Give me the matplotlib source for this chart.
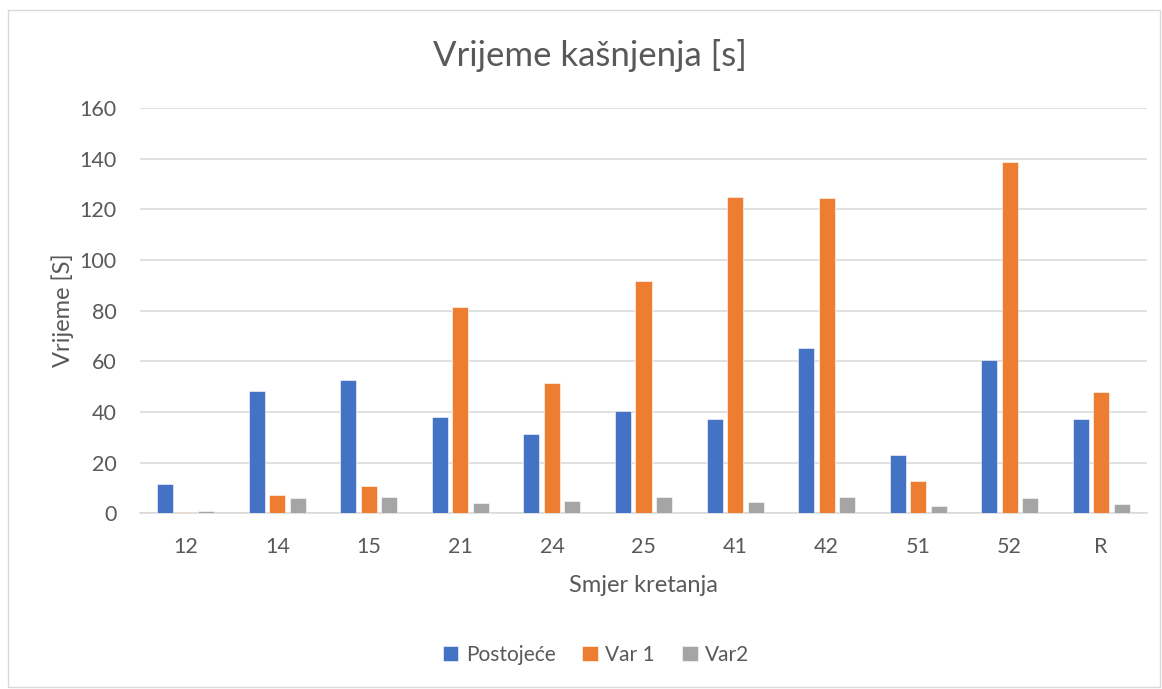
import matplotlib
matplotlib.use("Agg")
import matplotlib.pyplot as plt
import numpy as np
from matplotlib.patches import Rectangle

categories = ["12", "14", "15", "21", "24", "25", "41", "42", "51", "52", "R"]
postojece = [11.6, 48.1, 52.6, 38.0, 31.2, 40.2, 37.3, 65.3, 22.9, 60.5, 37.1]
var1 = [0.5, 7.1, 10.9, 81.3, 51.3, 91.6, 125.0, 124.4, 12.7, 138.5, 47.9]
var2 = [0.9, 5.9, 6.5, 4.1, 5.0, 6.3, 4.6, 6.4, 3.0, 5.9, 3.6]
series_names = ["Postojeće", "Var 1", "Var2"]
colors = ["#4472C4", "#ED7D31", "#A5A5A5"]
yticks = [0, 20, 40, 60, 80, 100, 120, 140, 160]

FONT = ["Lato", "DejaVu Sans"]
TXT = "#595959"
plt.rcParams["font.family"] = FONT

W, H = 1162, 689
fig = plt.figure(figsize=(W / 100, H / 100), dpi=100)
fig.patch.set_facecolor("white")

# chart border
fig.add_artist(Rectangle((8 / W, 1 - 687 / H), (1160 - 8) / W, (687 - 10) / H,
                         transform=fig.transFigure, fill=False,
                         edgecolor="#D9D9D9", linewidth=1.0))

ax = fig.add_axes([140 / W, 1 - 513.3 / H, (1147 - 140) / W, (513.3 - 108) / H])
x = np.arange(len(categories))
step = 0.224
width = 0.175
for i, (vals, c, name) in enumerate(zip([postojece, var1, var2], colors, series_names)):
    ax.bar(x + (i - 1) * step, vals, width=width, color=c, label=name,
           edgecolor="white", linewidth=0.4, zorder=3)

ax.set_xlim(-0.5, len(categories) - 0.5)
ax.set_ylim(0, 160)
ax.set_yticks(yticks)
ax.set_xticks(x)
ax.set_xticklabels(categories)
ax.yaxis.grid(True, color="#D9D9D9", linewidth=1.1, zorder=0)
ax.set_axisbelow(True)
for s in ["top", "right", "left"]:
    ax.spines[s].set_visible(False)
ax.spines["bottom"].set_color("#D9D9D9")
ax.spines["bottom"].set_linewidth(1.1)
ax.tick_params(axis="both", length=0, labelsize=15.5, labelcolor=TXT)
ax.tick_params(axis="x", pad=17)
ax.tick_params(axis="y", pad=17)

ax.set_ylabel("Vrijeme [S]", fontsize=17, color=TXT, labelpad=4)
ax.set_xlabel("Smjer kretanja", fontsize=17, color=TXT, labelpad=13)

fig.text(590 / W, 1 - 55 / H, "Vrijeme kašnjenja [s]", ha="center", va="center",
         fontsize=25, color=TXT)

leg = fig.legend(loc="center", bbox_to_anchor=(596 / W, 1 - 655 / H), ncol=3,
                 frameon=False, fontsize=15, handlelength=0.75, handleheight=0.75,
                 handletextpad=0.35, columnspacing=1.3)
for t in leg.get_texts():
    t.set_color(TXT)

fig.savefig("out.png", dpi=100, facecolor="white")
